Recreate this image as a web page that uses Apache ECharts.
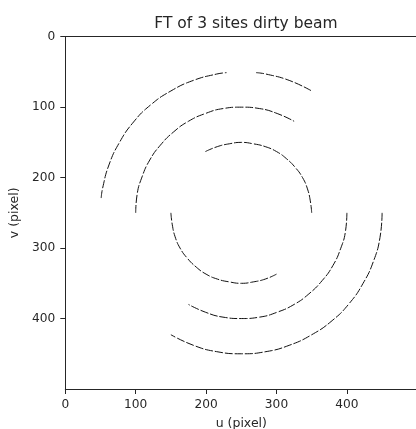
<!DOCTYPE html>
<html>
<head>
<meta charset="utf-8">
<script src="https://cdn.jsdelivr.net/npm/echarts@6/dist/echarts.min.js"></script>
<style>html,body{margin:0;padding:0;background:#fff}#c{width:416px;height:429px}</style>
</head>
<body>
<div id="c"></div>
<script>
// Tick labels
const xTicks = [0, 100, 200, 300, 400];
const yTicks = [0, 100, 200, 300, 400];

// Arcs, [u, v] in pixels
const outerUpperA = [[51,229],[53,215],[62,182],[77,150],[97,121],[121,97],[150,77],[182,62],[215,53],[229,51]];
const outerUpperB = [[271,51],[285,53],[318,62],[350,77]];
const middleUpper = [[100,250],[102,224],[109,199],[120,175],[135,154],[154,135],[175,120],[199,109],[224,102],[250,100],[276,102],[301,109],[325,120]];
const innerUpper = [[199,163],[216,156],[233,152],[250,150],[267,152],[284,156],[300,163],[314,173],[327,186],[337,200],[344,216],[348,233],[350,250]];
const outerLower = [[450,250],[447,285],[438,318],[423,350],[403,379],[379,403],[350,423],[318,438],[285,447],[250,450],[215,447],[182,438],[150,423]];
const middleLower = [[400,250],[398,276],[391,301],[380,325],[365,346],[346,365],[325,380],[301,391],[276,398],[250,400],[224,398],[199,391],[175,380]];
const innerLower = [[150,250],[152,267],[156,284],[163,300],[173,314],[186,327],[200,337],[216,344],[233,348],[250,350],[267,348],[284,344],[300,337]];

const arcs = [outerUpperA, outerUpperB, middleUpper, innerUpper, outerLower, middleLower, innerLower];

const chart = echarts.init(document.getElementById('c'), null, {renderer: 'canvas'});
const txt = '#262626';
const font = 'DejaVu Sans';
chart.setOption({
  animation: false,
  backgroundColor: '#fff',
  title: {
    text: 'FT of 3 sites dirty beam',
    left: 241, top: 11, textAlign: 'center',
    textStyle: {fontFamily: font, fontSize: 15.5, fontWeight: 'normal', color: txt}
  },
  grid: {left: 65.3, top: 36.7, width: 352, height: 352.3, containLabel: false, outerBoundsMode: 'none'},
  xAxis: [{
    type: 'value', min: 0, max: 500, interval: 100,
    name: 'u (pixel)', nameLocation: 'middle', nameGap: 28,
    nameTextStyle: {fontFamily: font, fontSize: 12.5, color: txt},
    axisLine: {show: true, onZero: false, lineStyle: {color: txt, width: 1}},
    axisTick: {show: true, length: 5, lineStyle: {color: txt}},
    axisLabel: {margin: 10, fontFamily: font, fontSize: 12.2, color: txt, showMaxLabel: false,
      formatter: v => xTicks.includes(v) ? String(v) : ''},
    splitLine: {show: false}
  }, {
    type: 'value', min: 0, max: 500, position: 'top',
    axisLine: {show: true, onZero: false, lineStyle: {color: txt, width: 1}},
    axisTick: {show: false}, axisLabel: {show: false}, splitLine: {show: false}
  }],
  yAxis: {
    type: 'value', min: 0, max: 500, interval: 100, inverse: true,
    name: 'v (pixel)', nameLocation: 'middle', nameGap: 43,
    nameTextStyle: {fontFamily: font, fontSize: 12.5, color: txt},
    axisLine: {show: true, onZero: false, lineStyle: {color: txt, width: 1}},
    axisTick: {show: true, length: 5, lineStyle: {color: txt}},
    axisLabel: {margin: 10, fontFamily: font, fontSize: 12.2, color: txt, showMaxLabel: false,
      formatter: v => yTicks.includes(v) ? String(v) : ''},
    splitLine: {show: false}
  },
  series: arcs.map(a => ({
    type: 'line', data: a, smooth: true, symbol: 'none',
    lineStyle: {color: '#111', width: 1, type: [8, 2]},
    silent: true
  }))
});
</script>
</body>
</html>
